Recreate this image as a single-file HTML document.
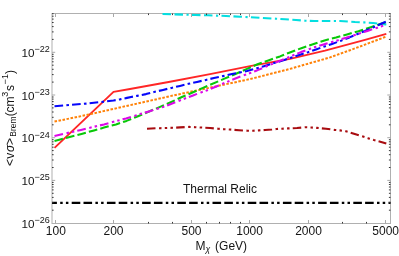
<!DOCTYPE html><html><head><meta charset="utf-8"><style>html,body{margin:0;padding:0;background:#fff}svg{display:block;will-change:transform}text{font-family:"Liberation Sans",sans-serif;fill:#141414}</style></head><body>
<svg width="399" height="256" viewBox="0 0 399 256">
<rect width="399" height="256" fill="#fff"/>
<defs><clipPath id="c"><rect x="51.5" y="13.0" width="339.5" height="211.0"/></clipPath></defs>
<rect x="52.0" y="13.5" width="338.5" height="210.0" fill="none" stroke="#b0b0b0" stroke-width="1"/>
<g clip-path="url(#c)" fill="none" stroke-linejoin="round">
<path d="M54.5 147.9 L113.5 91.9 L130.0 89.0 L170.0 81.7 L210.0 74.1 L250.0 66.1 L290.0 58.9 L325.0 50.6 L365.0 39.9 L386.3 33.9" stroke="#ff2626" stroke-width="1.9"/>
<path d="M162.5 14.0 L195.0 15.0 L208.0 15.3 L226.0 16.0 L240.0 16.7 L255.0 17.5 L267.0 18.2 L276.0 18.7 L285.0 19.2 L296.0 20.0 L305.0 20.7 L314.0 21.0 L340.0 21.0 L355.0 22.0 L364.0 22.4 L373.0 23.0 L386.3 24.5" stroke="#04dee0" stroke-width="2.1" stroke-dasharray="8.5 3.5 8.5 3.5 2.2 3.3"/>
<path d="M54.5 121.6 L87.5 114.8 L101.5 111.6 L130.0 105.2 L170.0 96.2 L210.0 87.6 L250.0 79.1 L290.0 68.9 L330.0 57.4 L350.0 50.2 L365.0 44.6 L386.2 36.6" stroke="#ff8208" stroke-width="2.0" stroke-dasharray="2.55 1.54"/>
<path d="M54.5 140.9 L81.5 133.9 L94.0 130.4 L104.0 127.6 L116.0 124.4 L126.5 120.9 L138.0 116.2 L160.0 106.9 L168.5 103.2 L182.5 96.8 L192.0 92.8 L203.0 87.9 L225.0 78.4 L236.0 73.8 L247.0 68.9 L257.5 64.3 L269.0 60.2 L280.0 56.4 L288.5 53.0 L302.0 47.9 L313.0 44.2 L324.5 40.4 L336.0 37.5 L347.0 34.4 L358.5 31.2 L370.0 27.4 L385.8 22.3" stroke="#08c808" stroke-width="2.1" stroke-dasharray="8.7 3.15"/>
<path d="M54.5 106.2 L89.0 103.4 L113.5 100.5 L120.0 99.4 L127.0 97.9 L131.0 97.0 L137.0 95.9 L146.0 94.1 L154.0 92.0 L163.0 89.9 L171.5 87.9 L180.0 85.9 L188.5 83.8 L197.0 81.9 L206.0 79.9 L214.0 78.0 L223.0 76.1 L232.0 74.1 L240.0 72.5 L247.0 70.9 L257.0 68.2 L264.0 66.2 L285.0 59.7 L300.0 54.7 L308.0 52.2 L316.0 49.4 L324.5 46.4 L332.0 43.9 L341.0 40.7 L349.5 37.4 L357.5 34.0 L365.0 31.0 L373.5 27.2 L385.8 21.8" stroke="#0606fa" stroke-width="2.1" stroke-dasharray="8.65 3.25 2.6 3.12"/>
<path d="M54.5 135.9 L81.0 129.9 L104.0 124.4 L126.0 118.4 L135.0 115.7 L140.0 114.1 L149.0 111.4 L157.5 108.7 L163.0 106.9 L168.5 104.9 L193.0 95.4 L201.0 92.4 L206.5 90.6 L236.0 78.2 L244.5 75.1 L249.5 73.3 L257.0 70.4 L271.0 64.4 L281.0 60.4 L287.5 57.7 L301.0 52.1 L309.5 49.0 L315.0 47.1 L323.5 44.6 L332.0 42.0 L337.5 40.4 L345.5 37.9 L354.0 35.2 L360.0 33.3 L367.5 30.9 L376.5 27.9 L381.8 26.2 L385.8 24.0" stroke="#dc08e8" stroke-width="2.1" stroke-dasharray="8.7 3.6 2.5 3.05 2.45 3.05"/>
<path d="M147.0 128.7 L155.5 128.3 L160.0 128.2 L166.0 128.0 L172.0 127.8 L180.0 127.4 L189.0 126.9 L195.0 127.2 L201.0 127.5 L210.0 128.0 L218.0 128.7 L224.0 129.2 L230.0 129.5 L239.0 130.2 L247.5 130.7 L253.0 130.7 L259.0 130.4 L265.0 130.0 L272.0 129.5 L276.5 129.0 L282.0 128.7 L288.0 128.4 L297.0 128.0 L306.0 127.2 L311.0 127.5 L317.0 127.9 L326.0 128.7 L334.5 129.9 L340.0 130.4 L346.0 131.3 L350.6 132.6 L358.8 135.2 L363.0 136.6 L368.5 138.4 L374.0 140.1 L378.2 141.2 L386.3 143.4" stroke="#a80c10" stroke-width="2.1" stroke-dasharray="8.5 3.5 2.5 3.3 2.4 3.3 2.5 3.2"/>
<path d="M52.0 202.85 L390.5 202.85" stroke="#000" stroke-width="2.1" stroke-dasharray="8.6 3.2 8.6 3.3 2.5 3.2 2.5 3.3" stroke-dashoffset="15.5"/>
</g>
<path d="M55.5 223.5 v-3.5 M55.5 13.5 v3.5 M113.5 223.5 v-3.5 M113.5 13.5 v3.5 M191.5 223.5 v-3.5 M191.5 13.5 v3.5 M249.5 223.5 v-3.5 M249.5 13.5 v3.5 M308.5 223.5 v-3.5 M308.5 13.5 v3.5 M385.5 223.5 v-3.5 M385.5 13.5 v3.5 M52.0 180.4 h3.2 M390.5 180.4 h-3.2 M52.0 137.7 h3.2 M390.5 137.7 h-3.2 M52.0 95.0 h3.2 M390.5 95.0 h-3.2 M52.0 52.3 h3.2 M390.5 52.3 h-3.2" stroke="#a8a8a8" stroke-width="1" fill="none"/>
<path d="M148.5 223.5 v-1.6 M148.5 13.5 v1.6 M172.5 223.5 v-1.6 M172.5 13.5 v1.6 M206.5 223.5 v-1.6 M206.5 13.5 v1.6 M219.5 223.5 v-1.6 M219.5 13.5 v1.6 M230.5 223.5 v-1.6 M230.5 13.5 v1.6 M240.5 223.5 v-1.6 M240.5 13.5 v1.6 M342.5 223.5 v-1.6 M342.5 13.5 v1.6 M366.5 223.5 v-1.6 M366.5 13.5 v1.6 M52.0 210.2 h1.6 M390.5 210.2 h-1.6 M52.0 202.7 h1.6 M390.5 202.7 h-1.6 M52.0 197.4 h1.6 M390.5 197.4 h-1.6 M52.0 193.3 h1.6 M390.5 193.3 h-1.6 M52.0 189.9 h1.6 M390.5 189.9 h-1.6 M52.0 187.0 h1.6 M390.5 187.0 h-1.6 M52.0 184.5 h1.6 M390.5 184.5 h-1.6 M52.0 182.4 h1.6 M390.5 182.4 h-1.6 M52.0 167.5 h1.6 M390.5 167.5 h-1.6 M52.0 160.0 h1.6 M390.5 160.0 h-1.6 M52.0 154.7 h1.6 M390.5 154.7 h-1.6 M52.0 150.6 h1.6 M390.5 150.6 h-1.6 M52.0 147.2 h1.6 M390.5 147.2 h-1.6 M52.0 144.3 h1.6 M390.5 144.3 h-1.6 M52.0 141.8 h1.6 M390.5 141.8 h-1.6 M52.0 139.7 h1.6 M390.5 139.7 h-1.6 M52.0 124.8 h1.6 M390.5 124.8 h-1.6 M52.0 117.3 h1.6 M390.5 117.3 h-1.6 M52.0 112.0 h1.6 M390.5 112.0 h-1.6 M52.0 107.9 h1.6 M390.5 107.9 h-1.6 M52.0 104.5 h1.6 M390.5 104.5 h-1.6 M52.0 101.6 h1.6 M390.5 101.6 h-1.6 M52.0 99.1 h1.6 M390.5 99.1 h-1.6 M52.0 97.0 h1.6 M390.5 97.0 h-1.6 M52.0 82.1 h1.6 M390.5 82.1 h-1.6 M52.0 74.6 h1.6 M390.5 74.6 h-1.6 M52.0 69.3 h1.6 M390.5 69.3 h-1.6 M52.0 65.2 h1.6 M390.5 65.2 h-1.6 M52.0 61.8 h1.6 M390.5 61.8 h-1.6 M52.0 58.9 h1.6 M390.5 58.9 h-1.6 M52.0 56.4 h1.6 M390.5 56.4 h-1.6 M52.0 54.3 h1.6 M390.5 54.3 h-1.6 M52.0 39.4 h1.6 M390.5 39.4 h-1.6 M52.0 31.9 h1.6 M390.5 31.9 h-1.6 M52.0 26.6 h1.6 M390.5 26.6 h-1.6 M52.0 22.5 h1.6 M390.5 22.5 h-1.6 M52.0 19.1 h1.6 M390.5 19.1 h-1.6 M52.0 16.2 h1.6 M390.5 16.2 h-1.6 M52.0 13.7 h1.6 M390.5 13.7 h-1.6" stroke="#383838" stroke-width="1" fill="none"/>
<text x="55.8" y="234.8" font-size="12" text-anchor="middle">100</text>
<text x="113.5" y="234.8" font-size="12" text-anchor="middle">200</text>
<text x="191.5" y="234.8" font-size="12" text-anchor="middle">500</text>
<text x="249.6" y="234.8" font-size="12" text-anchor="middle">1000</text>
<text x="308.5" y="234.8" font-size="12" text-anchor="middle">2000</text>
<text x="385.7" y="234.8" font-size="12" text-anchor="middle">5000</text>
<text x="49.8" y="227.7" font-size="11.7" text-anchor="end">10<tspan font-size="9" dy="-4.7">−26</tspan></text>
<text x="49.8" y="185.0" font-size="11.7" text-anchor="end">10<tspan font-size="9" dy="-4.7">−25</tspan></text>
<text x="49.8" y="142.3" font-size="11.7" text-anchor="end">10<tspan font-size="9" dy="-4.7">−24</tspan></text>
<text x="49.8" y="99.6" font-size="11.7" text-anchor="end">10<tspan font-size="9" dy="-4.7">−23</tspan></text>
<text x="49.8" y="56.9" font-size="11.7" text-anchor="end">10<tspan font-size="9" dy="-4.7">−22</tspan></text>
<text x="183" y="192.9" font-size="12">Thermal Relic</text>
<text x="195.4" y="250.2" font-size="12">M</text><text x="205.4" y="252.4" font-size="8.6" font-style="italic" fill="#333">χ</text><text x="215.1" y="250.2" font-size="12">(GeV)</text>
<text transform="translate(13.6 166) rotate(-90)" font-size="12">&lt;<tspan dx="0.3">v</tspan><tspan font-style="italic" dx="0.7">σ</tspan><tspan dx="-0.2">&gt;</tspan><tspan font-size="8.5" dy="1.9" dx="1.2">Brem</tspan><tspan dy="-1.9" dx="0.2">(</tspan><tspan dx="-0.3">cm</tspan><tspan font-size="9" dy="-6" dx="-0.3">3</tspan><tspan dy="6" dx="0.9">s</tspan><tspan font-size="9" dy="-6" dx="0.3">−</tspan><tspan font-size="9" dx="0.4">1</tspan><tspan dy="6">)</tspan></text>
</svg></body></html>
